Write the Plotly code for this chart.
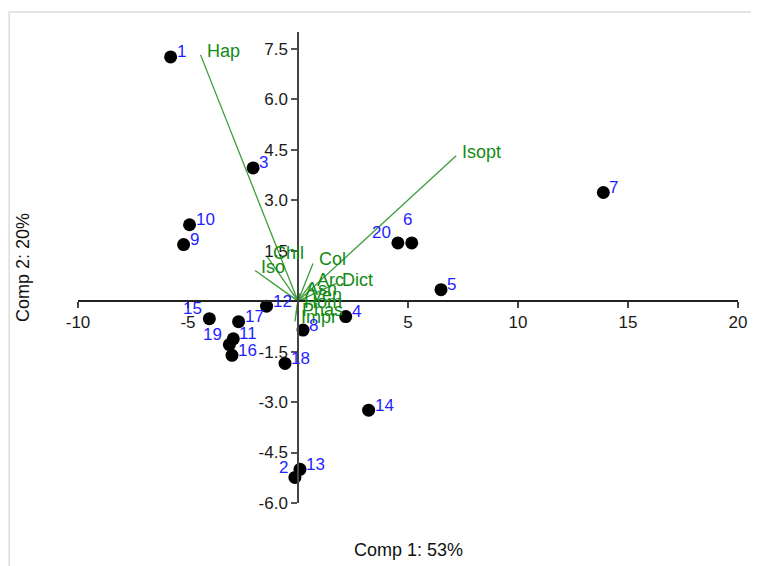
import plotly.graph_objects as go

# ---- data ----
obs_ids = [str(i) for i in range(1, 21)]
comp1 = [-5.79, -0.14, -2.04, 2.17, 6.50, 5.17, 13.88, 0.23, -5.20, -4.93,
         -2.94, -1.43, 0.09, 3.21, -4.03, -3.00, -2.70, -0.59, -3.12, 4.54]
comp2 = [7.26, -5.24, 3.96, -0.46, 0.34, 1.73, 3.23, -0.86, 1.68, 2.27,
         -1.12, -0.15, -5.00, -3.24, -0.52, -1.61, -0.61, -1.85, -1.29, 1.73]

var_names = ["Hap", "Isopt", "Chil", "Iso", "Col", "Arc", "Dict", "Asn", "Ven", "Hom", "Phas", "Impr"]
load1 = [-4.43, 7.19, -1.40, -1.95, 0.68, 0.59, 1.72, 0.09, 0.32, 0.00, -0.09, -0.14]
load2 = [7.32, 4.32, 1.32, 0.91, 1.12, 0.52, 0.52, 0.23, 0.05, -0.13, -0.37, -0.60]

x_ticks = [-10, -5, 5, 10, 15, 20]
x_ticktext = ["-10", "-5", "5", "10", "15", "20"]
y_ticks = [-6, -4.5, -3, -1.5, 1.5, 3, 4.5, 6, 7.5]
y_ticktext = ["-6.0", "-4.5", "-3.0", "-1.5", "1.5", "3.0", "4.5", "6.0", "7.5"]

x_title = "Comp 1: 53%"
y_title = "Comp 2: 20%"

# ---- styles ----
FONT = "Liberation Sans, Arial, sans-serif"
x_range = [-10, 20]
y_range = [-6, 8]
label_side = {"2": "l", "6": "t", "15": "l", "19": "l", "20": "l"}

fig = go.Figure()

# loading vectors
lx, ly = [], []
for a, b in zip(load1, load2):
    lx += [0, a, None]
    ly += [0, b, None]
fig.add_trace(go.Scatter(x=lx, y=ly, mode="lines",
                         line=dict(color="#3c9c3c", width=1.3),
                         hoverinfo="skip"))

# observation scores
fig.add_trace(go.Scatter(x=comp1, y=comp2, mode="markers",
                         marker=dict(color="black", size=13),
                         hoverinfo="skip"))

annotations = []
for name, a, b in zip(var_names, load1, load2):
    annotations.append(dict(x=a, y=b, text=name, showarrow=False,
                            xanchor="left", yanchor="middle", xshift=4, yshift=4,
                            font=dict(family=FONT, size=18, color="#148a14")))

for lab, a, b in zip(obs_ids, comp1, comp2):
    side = label_side.get(lab, "r")
    if side == "r":
        kw = dict(xanchor="left", yanchor="middle", xshift=4, yshift=5)
    elif side == "l":
        kw = dict(xanchor="right", yanchor="middle", xshift=-5, yshift=10)
    else:
        kw = dict(xanchor="center", yanchor="bottom", xshift=-4, yshift=12)
    annotations.append(dict(x=a, y=b, text=lab, showarrow=False,
                            font=dict(family=FONT, size=17, color="#1f1fff"), **kw))

annotations.append(dict(x=0.5, y=-0.1, xref="paper", yref="paper", text=x_title,
                        showarrow=False, xanchor="center", yanchor="middle",
                        font=dict(family=FONT, size=18, color="#111111")))
annotations.append(dict(x=-0.084, y=0.5, xref="paper", yref="paper", text=y_title,
                        showarrow=False, xanchor="center", yanchor="middle", textangle=-90,
                        font=dict(family=FONT, size=18, color="#111111")))

fig.update_layout(
    width=751, height=558,
    margin=dict(l=70, r=17, t=24, b=63),
    paper_bgcolor="white", plot_bgcolor="white",
    showlegend=False,
    annotations=annotations,
    shapes=[dict(type="rect", xref="paper", yref="paper",
                 x0=-0.1043, x1=1.2, y0=-0.3, y1=1.0425,
                 line=dict(color="#dcdcdc", width=1.5), layer="below")],
    xaxis=dict(range=x_range, tickvals=x_ticks, ticktext=x_ticktext,
               showline=True, linecolor="#222222", linewidth=1.5,
               ticks="outside", ticklen=6, tickcolor="#444444", tickwidth=1.5,
               showgrid=False, zeroline=False,
               anchor="free", position=(0 - y_range[0]) / (y_range[1] - y_range[0]),
               tickfont=dict(family=FONT, size=17, color="#1a1a1a")),
    yaxis=dict(range=y_range, tickvals=y_ticks, ticktext=y_ticktext,
               showline=True, linecolor="#444444", linewidth=1.5,
               ticks="outside", ticklen=6, tickcolor="#555555", tickwidth=1.5,
               showgrid=False, zeroline=False,
               anchor="free", position=(0 - x_range[0]) / (x_range[1] - x_range[0]),
               tickfont=dict(family=FONT, size=17, color="#1a1a1a")),
)

fig.write_html("out.html")
